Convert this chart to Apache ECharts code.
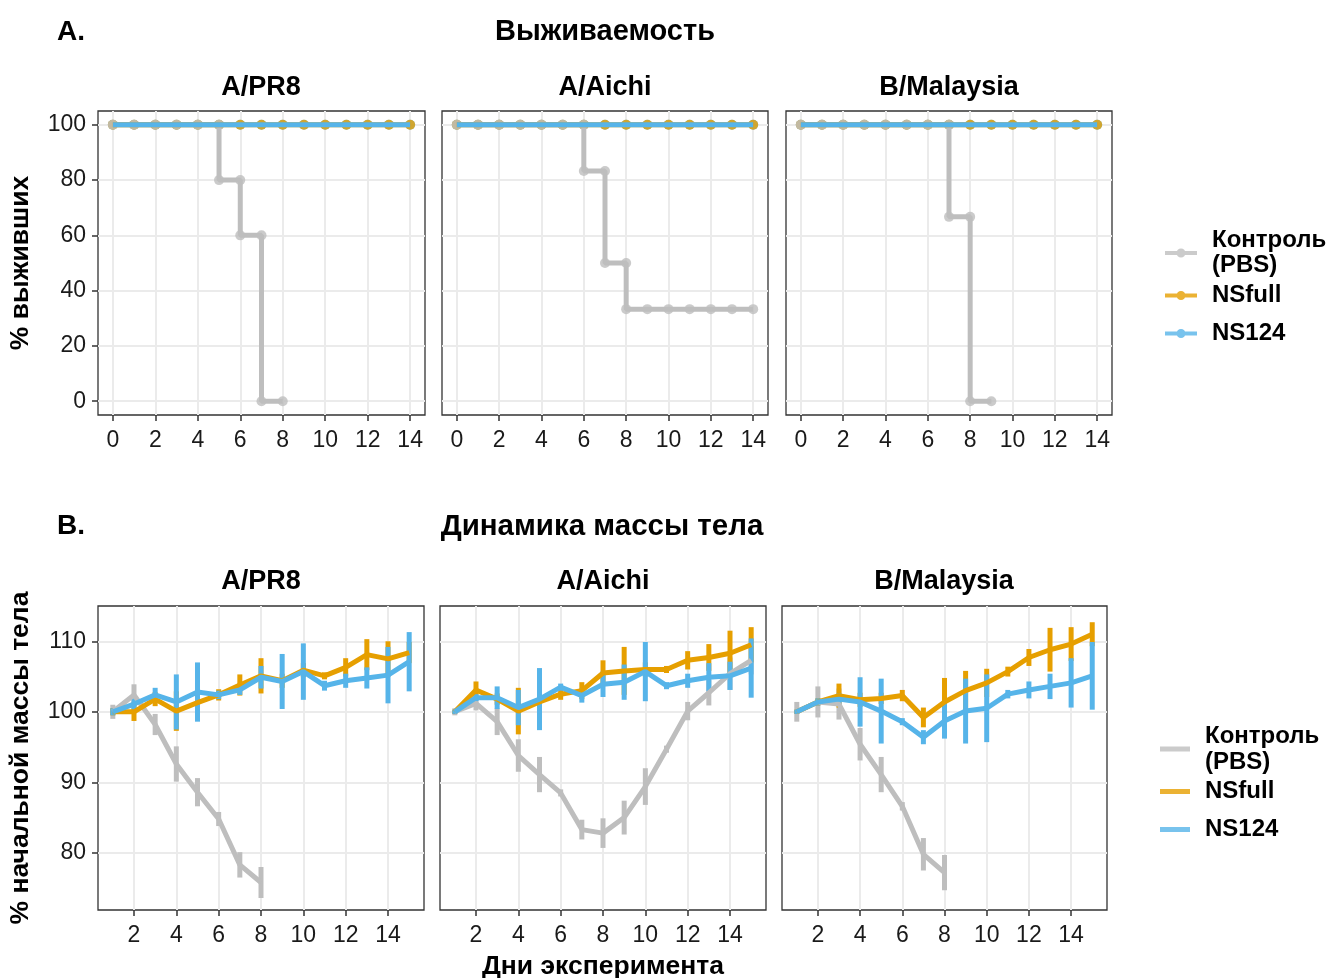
<!DOCTYPE html>
<html>
<head>
<meta charset="utf-8">
<script src="https://cdn.jsdelivr.net/npm/echarts@6/dist/echarts.min.js"></script>
<style>
  html, body { margin: 0; background: #fff; }
  #chart { width: 1328px; height: 978px; }
</style>
</head>
<body>
<div id="chart"></div>
<script>
// --- survival (% alive) by day 0..14
const survDays = [0, 1, 2, 3, 4, 5, 6, 7, 8, 9, 10, 11, 12, 13, 14];
const survCtrlPR8 = [100, 100, 100, 100, 100, 80, 60, 0, 0];
const survCtrlAichi = [100, 100, 100, 100, 100, 100, 83.3, 50, 33.3, 33.3, 33.3, 33.3, 33.3, 33.3, 33.3];
const survCtrlMalaysia = [100, 100, 100, 100, 100, 100, 100, 66.7, 0, 0];
// vaccinated groups: nobody died in any strain
const survNSfull = [100, 100, 100, 100, 100, 100, 100, 100, 100, 100, 100, 100, 100, 100, 100];
const survNS124 = [100, 100, 100, 100, 100, 100, 100, 100, 100, 100, 100, 100, 100, 100, 100];

// --- body mass (% of initial) by day 1..15, mean and error
const massDays = [1, 2, 3, 4, 5, 6, 7, 8, 9, 10, 11, 12, 13, 14, 15];

const massCtrlPR8 = [100, 102.4, 98.2, 92.6, 88.6, 84.8, 78.3, 75.8];
const errCtrlPR8 = [1, 1.5, 1.5, 2.5, 2, 1, 1.8, 2.2];
const massNSfullPR8 = [100, 100, 101.8, 100.1, 101.3, 102.4, 103.8, 105.1, 104.4, 105.9, 105.1, 106.3, 108.1, 107.5, 108.4];
const errNSfullPR8 = [0.5, 1.3, 1, 2.8, 1, 0.8, 1.5, 2.5, 1, 1, 0.5, 1.3, 2.2, 2.5, 1.5];
const massNS124PR8 = [100, 101.1, 102.4, 101.4, 102.8, 102.4, 103.1, 104.9, 104.3, 105.7, 103.7, 104.4, 104.8, 105.2, 107.1];
const errNS124PR8 = [0.5, 0.8, 1, 3.9, 4.2, 0.6, 0.7, 1.6, 3.9, 4, 0.7, 1, 1.5, 4, 4.2];

const massCtrlAichi = [100, 101.2, 98.6, 93.8, 91.1, 88.5, 83.3, 82.8, 85, 89.4, 94.7, 100.1, 102.7, 105.4, 107.3];
const errCtrlAichi = [0.5, 1, 1.9, 2.3, 2.5, 0.5, 1.4, 2.1, 2.4, 2.6, 0.5, 1.3, 1.8, 2.3, 2];
const massNSfullAichi = [100, 103.1, 101.8, 100.1, 101.4, 102.5, 103, 105.5, 105.8, 106, 106, 107.3, 107.7, 108.3, 109.5];
const errNSfullAichi = [0.3, 1.2, 0.8, 3.3, 1, 0.8, 1.2, 1.8, 3.4, 1, 0.5, 1.3, 1.9, 3.2, 2.5];
const massNS124Aichi = [100, 102, 102, 100.6, 101.8, 103.5, 102.3, 103.9, 104.2, 105.7, 103.7, 104.4, 104.9, 105.1, 106.2];
const errNS124Aichi = [0.3, 0.5, 1.6, 2.5, 4.4, 0.5, 1, 1.8, 2.5, 4.2, 0.5, 1, 2, 2, 4.2];

const massCtrlMalaysia = [100, 101.4, 101.1, 95.4, 91.1, 86.6, 79.8, 77.2];
const errCtrlMalaysia = [1.4, 2.2, 2.2, 2.3, 2.5, 0.6, 2.3, 2.5];
const massNSfullMalaysia = [100, 101.4, 102.3, 101.7, 101.9, 102.3, 99.2, 101.4, 103, 104.1, 105.7, 107.7, 108.8, 109.6, 111];
const errNSfullMalaysia = [0.3, 0.5, 1.7, 1, 0.8, 0.8, 1.4, 3.4, 2.8, 2, 0.7, 1.2, 3.1, 2.4, 1.7];
const massNS124Malaysia = [100, 101.4, 101.8, 101.4, 100.1, 98.6, 96.4, 98.7, 100.1, 100.5, 102.5, 103.1, 103.6, 104.1, 105.1];
const errNS124Malaysia = [0.3, 0.5, 0.8, 3.5, 4.6, 0.5, 1, 2.5, 4.6, 4.8, 0.6, 1.2, 1.8, 3.5, 4.8];

const strains = ["A/PR8", "A/Aichi", "B/Malaysia"];
const groupNames = ["Контроль\n(PBS)", "NSfull", "NS124"];
const survTicksX = [0, 2, 4, 6, 8, 10, 12, 14];
const survTicksY = [0, 20, 40, 60, 80, 100];
const massTicksX = [2, 4, 6, 8, 10, 12, 14];
const massTicksY = [80, 90, 100, 110];

const colors = ["#bebebe", "#e69f00", "#56b4e9"];
const FONT = "'Liberation Sans', Arial, sans-serif";

const survData = [
  [survCtrlPR8, survNSfull, survNS124],
  [survCtrlAichi, survNSfull, survNS124],
  [survCtrlMalaysia, survNSfull, survNS124]
];
const massData = [
  [[massCtrlPR8, errCtrlPR8], [massNSfullPR8, errNSfullPR8], [massNS124PR8, errNS124PR8]],
  [[massCtrlAichi, errCtrlAichi], [massNSfullAichi, errNSfullAichi], [massNS124Aichi, errNS124Aichi]],
  [[massCtrlMalaysia, errCtrlMalaysia], [massNSfullMalaysia, errNSfullMalaysia], [massNS124Malaysia, errNS124Malaysia]]
];

const chart = echarts.init(document.getElementById("chart"));

const grids = [
  { left: 98, top: 111, width: 327, height: 304 },
  { left: 442, top: 111, width: 326, height: 304 },
  { left: 786, top: 111, width: 326, height: 304 },
  { left: 98, top: 606, width: 326, height: 304 },
  { left: 440, top: 606, width: 326, height: 304 },
  { left: 782, top: 606, width: 325, height: 304 }
].map(g => Object.assign({
  show: true, borderColor: "#333", borderWidth: 1.3, backgroundColor: "#fff",
  containLabel: false, outerBoundsMode: "none"
}, g));

const gridLine = { show: true, lineStyle: { color: "#ebebeb", width: 2 } };
const tickLabel = { color: "#1a1a1a", fontSize: 23, fontFamily: FONT };

function makeX(i, min, max, ticks, showName) {
  return {
    type: "value", gridIndex: i, min: min, max: max,
    axisLine: { show: false, onZero: false },
    axisTick: { show: true, length: 6, lineStyle: { color: "#333", width: 1.5 }, customValues: ticks },
    axisLabel: Object.assign({ customValues: ticks, margin: 14 }, tickLabel),
    splitLine: gridLine,
    name: showName ? "Дни эксперимента" : "",
    nameLocation: "middle", nameGap: 43,
    nameTextStyle: { fontSize: 26.5, fontWeight: "bold", color: "#000", fontFamily: FONT }
  };
}
function makeY(i, min, max, ticks, name) {
  const first = !!name;
  return {
    type: "value", gridIndex: i, min: min, max: max,
    axisLine: { show: false, onZero: false },
    axisTick: { show: first, length: 6, lineStyle: { color: "#333", width: 1.5 }, customValues: ticks },
    axisLabel: Object.assign({ show: first, customValues: ticks, margin: 12 }, tickLabel),
    splitLine: gridLine,
    name: name || "",
    nameLocation: "middle", nameRotate: 90, nameGap: 64,
    nameTextStyle: { fontSize: 26.5, fontWeight: "bold", color: "#000", fontFamily: FONT }
  };
}

const xAxes = [], yAxes = [];
for (let p = 0; p < 3; p++) {
  xAxes.push(makeX(p, -0.7, 14.7, survTicksX, false));
  yAxes.push(makeY(p, -5, 105, survTicksY, p === 0 ? "% выживших" : null));
}
for (let p = 0; p < 3; p++) {
  xAxes.push(makeX(p + 3, 0.3, 15.7, massTicksX, p === 1));
  yAxes.push(makeY(p + 3, 71.9, 115, massTicksY, p === 0 ? "% начальной массы тела" : null));
}

// points of a survival curve: one at every day, plus the corner where it drops
function stepPoints(vals) {
  const pts = [];
  vals.forEach((v, i) => {
    if (i > 0 && v !== vals[i - 1]) pts.push([survDays[i], vals[i - 1]]);
    pts.push([survDays[i], v]);
  });
  return pts;
}

function renderErr(params, api) {
  const a = api.coord([api.value(0), api.value(1)]);
  const b = api.coord([api.value(0), api.value(2)]);
  return {
    type: "line",
    shape: { x1: a[0], y1: a[1], x2: b[0], y2: b[1] },
    style: { stroke: api.visual("color"), lineWidth: 5 }
  };
}

const series = [];
for (let p = 0; p < 3; p++) {
  // points first (blue under orange under grey), then lines (grey, orange, blue)
  [2, 1, 0].forEach(g => {
    series.push({
      name: groupNames[g], type: "scatter", xAxisIndex: p, yAxisIndex: p,
      symbol: "circle", symbolSize: 10, itemStyle: { color: colors[g] },
      data: stepPoints(survData[p][g]), silent: true
    });
  });
  [0, 1, 2].forEach(g => {
    series.push({
      name: groupNames[g], type: "line", step: "end", xAxisIndex: p, yAxisIndex: p,
      showSymbol: false, symbol: "none", color: colors[g],
      lineStyle: { color: colors[g], width: 5 },
      data: survData[p][g].map((v, i) => [survDays[i], v])
    });
  });
}
for (let p = 0; p < 3; p++) {
  [0, 1, 2].forEach(g => {
    const mean = massData[p][g][0], err = massData[p][g][1];
    series.push({
      name: groupNames[g], type: "custom", xAxisIndex: p + 3, yAxisIndex: p + 3,
      color: colors[g], itemStyle: { color: colors[g] }, renderItem: renderErr,
      encode: { x: 0, y: [1, 2] },
      data: mean.map((v, i) => [massDays[i], v - err[i], v + err[i]])
    });
    series.push({
      name: groupNames[g], type: "line", xAxisIndex: p + 3, yAxisIndex: p + 3,
      showSymbol: false, symbol: "none", color: colors[g],
      lineStyle: { color: colors[g], width: 5 },
      data: mean.map((v, i) => [massDays[i], v])
    });
  });
}

const dotIcon = "path://M0,2H32V6H0Z M20.5,4A4.5,4.5,0,1,1,11.5,4A4.5,4.5,0,1,1,20.5,4Z";
const legendText = { fontSize: 24, fontWeight: "bold", color: "#000", fontFamily: FONT, padding: [0, 0, 0, 10] };
function legendItems(icon, h2, h3, h1) {
  return [
    { name: groupNames[0], icon: icon, textStyle: { lineHeight: h1 } },
    { name: groupNames[1], icon: icon, textStyle: { lineHeight: h2 } },
    { name: groupNames[2], icon: icon, textStyle: { lineHeight: h3 } }
  ];
}

function txt(x, y, text, size, align) {
  return {
    type: "text", x: x, y: y,
    style: { text: text, fontSize: size, fontWeight: "bold", fontFamily: FONT, fill: "#000",
             textAlign: align || "center", textVerticalAlign: "middle" }
  };
}

chart.setOption({
  animation: false,
  backgroundColor: "#fff",
  grid: grids,
  xAxis: xAxes,
  yAxis: yAxes,
  legend: [
    {
      orient: "vertical", left: 1160, top: 223, itemGap: 4, itemWidth: 32, itemHeight: 9,
      itemStyle: { borderWidth: 0 }, textStyle: legendText, selectedMode: false,
      data: legendItems(dotIcon, 27, 41, 25)
    },
    {
      orient: "vertical", left: 1155, top: 718, itemGap: 4, itemWidth: 30, itemHeight: 5,
      itemStyle: { borderWidth: 0 }, textStyle: legendText, selectedMode: false,
      data: legendItems("rect", 25, 43, 26)
    }
  ],
  graphic: [
    txt(57, 32, "A.", 28, "left"),
    txt(605, 32, "Выживаемость", 29),
    txt(57, 526, "B.", 28, "left"),
    txt(602, 527, "Динамика массы тела", 29.5),
    txt(261, 88, strains[0], 27),
    txt(605, 88, strains[1], 27),
    txt(949, 88, strains[2], 27),
    txt(261, 582, strains[0], 27),
    txt(603, 582, strains[1], 27),
    txt(944, 582, strains[2], 27)
  ],
  series: series
});
</script>
</body>
</html>
